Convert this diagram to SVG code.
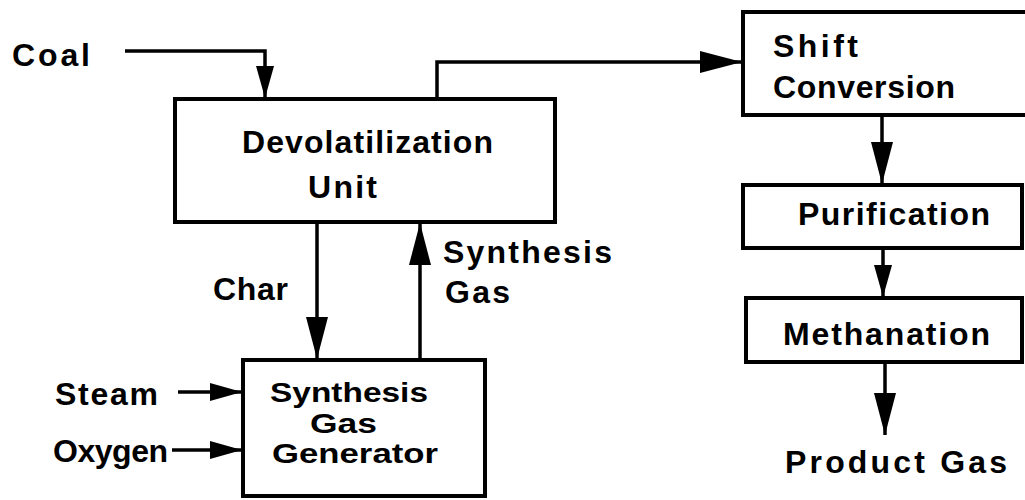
<svg xmlns="http://www.w3.org/2000/svg" width="1025" height="500" viewBox="0 0 1025 500">
<style>
.box{fill:none;stroke:#000;stroke-width:4}
.t{font-family:"Liberation Sans",Arial,sans-serif;font-weight:bold;font-size:32px;fill:#000}
.s{font-size:27px}
.c{fill:none;stroke:#000;stroke-width:3.5}
</style>
<defs>
<marker id="ah" markerWidth="42" markerHeight="24" refX="42" refY="12" orient="auto" markerUnits="userSpaceOnUse">
<path d="M0,1 L42,12 L0,23 Z" fill="#000"/>
</marker>
<marker id="ahs" markerWidth="32" markerHeight="20" refX="32" refY="10" orient="auto" markerUnits="userSpaceOnUse">
<path d="M0,1 L32,10 L0,19 Z" fill="#000"/>
</marker>
</defs>
<rect width="1025" height="500" fill="#fff"/>
<g id="connectors">
<path class="c" d="M125,51 H265 V98" marker-end="url(#ahs)"/>
<path class="c" d="M437,99 V62 H742" marker-end="url(#ah)"/>
<path class="c" d="M317,222 V359" marker-end="url(#ah)"/>
<path class="c" d="M420,360 V223" marker-end="url(#ah)"/>
<path class="c" d="M178,392 H242" marker-end="url(#ahs)"/>
<path class="c" d="M172,450 H242" marker-end="url(#ahs)"/>
<path class="c" d="M882,115 V184" marker-end="url(#ah)"/>
<path class="c" d="M883,248 V297" marker-end="url(#ahs)"/>
<path class="c" d="M885,362 V435" marker-end="url(#ah)"/>
</g>
<g id="coal"><text class="t" x="12" y="66" textLength="78" lengthAdjust="spacing">Coal</text></g>
<g id="devolatilization">
<rect class="box" x="175" y="99" width="380" height="123"/>
<text class="t" x="242" y="153" textLength="251" lengthAdjust="spacing">Devolatilization</text>
<text class="t" x="308" y="198" textLength="69" lengthAdjust="spacing">Unit</text>
</g>
<g id="char-label"><text class="t" x="213" y="300" textLength="75" lengthAdjust="spacing">Char</text></g>
<g id="syngas-label">
<text class="t" x="443" y="263" textLength="169" lengthAdjust="spacing">Synthesis</text>
<text class="t" x="445" y="303" textLength="65" lengthAdjust="spacing">Gas</text>
</g>
<g id="steam"><text class="t" x="55" y="405" textLength="103" lengthAdjust="spacing">Steam</text></g>
<g id="oxygen"><text class="t" x="53" y="462" textLength="115" lengthAdjust="spacing">Oxygen</text></g>
<g id="generator">
<rect class="box" x="243" y="360" width="242" height="136"/>
<text class="t s" x="270" y="402" textLength="158" lengthAdjust="spacingAndGlyphs">Synthesis</text>
<text class="t s" x="310" y="432.5" textLength="67" lengthAdjust="spacingAndGlyphs">Gas</text>
<text class="t s" x="272" y="463" textLength="166" lengthAdjust="spacingAndGlyphs">Generator</text>
</g>
<g id="shift">
<rect class="box" x="743" y="12" width="290" height="103"/>
<text class="t" x="773" y="57" textLength="85" lengthAdjust="spacing">Shift</text>
<text class="t" x="773" y="98" textLength="182" lengthAdjust="spacing">Conversion</text>
</g>
<g id="purification">
<rect class="box" x="743" y="185" width="279" height="63"/>
<text class="t" x="798" y="225" textLength="192" lengthAdjust="spacing">Purification</text>
</g>
<g id="methanation">
<rect class="box" x="746" y="298" width="276" height="64"/>
<text class="t" x="783" y="345" textLength="207" lengthAdjust="spacing">Methanation</text>
</g>
<g id="product"><text class="t" x="785" y="473" textLength="222" lengthAdjust="spacing">Product Gas</text></g>
</svg>
